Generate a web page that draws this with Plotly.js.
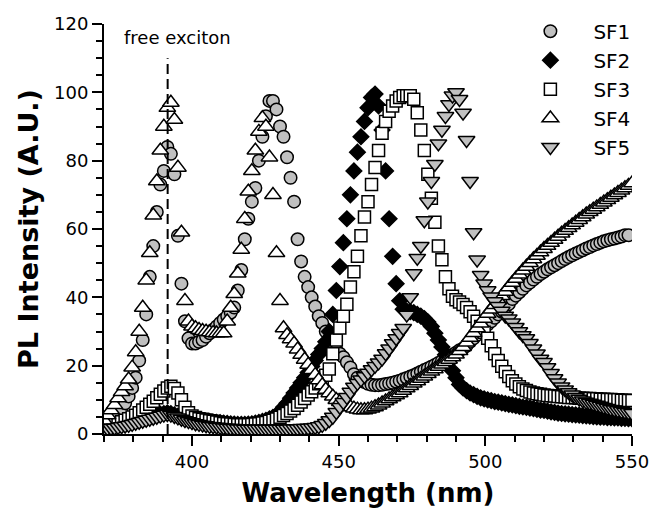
<!DOCTYPE html>
<html>
<head>
<meta charset="utf-8">
<script src="https://cdn.plot.ly/plotly-3.0.1.min.js"></script>
<style>html,body{margin:0;padding:0;background:#fff;}#chart{width:658px;height:508px;}</style>
</head>
<body>
<div id="chart"></div>
<script>
// Wavelength grid (nm)
var wavelength = [370.0,371.2,372.4,373.6,374.8,376.0,377.2,378.4,379.6,380.8,382.0,383.2,384.4,385.6,386.8,388.0,389.2,390.4,391.6,392.8,394.0,395.2,396.4,397.6,398.8,400.0,401.2,402.4,403.6,404.8,406.0,407.2,408.4,409.6,410.8,412.0,413.2,414.4,415.6,416.8,418.0,419.2,420.4,421.6,422.8,424.0,425.2,426.4,427.6,428.8,430.0,431.2,432.4,433.6,434.8,436.0,437.2,438.4,439.6,440.8,442.0,443.2,444.4,445.6,446.8,448.0,449.2,450.4,451.6,452.8,454.0,455.2,456.4,457.6,458.8,460.0,461.2,462.4,463.6,464.8,466.0,467.2,468.4,469.6,470.8,472.0,473.2,474.4,475.6,476.8,478.0,479.2,480.4,481.6,482.8,484.0,485.2,486.4,487.6,488.8,490.0,491.2,492.4,493.6,494.8,496.0,497.2,498.4,499.6,500.8,502.0,503.2,504.4,505.6,506.8,508.0,509.2,510.4,511.6,512.8,514.0,515.2,516.4,517.6,518.8,520.0,521.2,522.4,523.6,524.8,526.0,527.2,528.4,529.6,530.8,532.0,533.2,534.4,535.6,536.8,538.0,539.2,540.4,541.6,542.8,544.0,545.2,546.4,547.6,548.8,550.0];

var sf1 = [3,3.5,4,5,6,7.5,9,11,13.5,16.5,21.5,27.5,35,46,55,65,73,77,84,82,76,58,44,33,28,26.5,26.5,27,27.5,28.5,29.5,30.5,31.5,32.5,33.5,34.5,35.5,37,42,48,57,63,68,72,80,87,93,97.5,97.5,95,90,87,81,75,68,57,50.5,46,43,40,37.3,34.5,32.5,30,28,26,24.5,23.5,22.5,21,19.5,17.5,16.5,15.8,15.2,14.7,14.4,14.3,14.3,14.4,14.6,14.8,15,15.3,15.6,16,16.4,16.8,17.2,17.7,18.2,18.7,19.2,19.7,20.2,20.8,21.4,22,22.6,23.2,23.8,24.5,25,25.8,27,28,29,30,31,32,33,34,35,35.8,37,38,39.5,40.5,41.5,42.5,43.5,44.3,45.2,46,46.8,47.5,48.2,48.8,49.4,50,50.6,51.2,51.8,52.3,52.8,53.3,53.8,54.3,54.7,55.2,55.6,56,56.4,56.7,57,57.2,57.5,57.8,58.2,58.2,null];

var sf2 = [2,2,2.2,2.4,2.6,2.8,3,3.2,3.5,3.8,4,4.3,4.6,4.9,5.2,5.5,5.8,6,6.2,6,5.6,5.2,4.8,4.5,4.3,4.1,4,3.9,3.8,3.7,3.6,3.5,3.4,3.3,3.2,3.1,3,2.9,2.8,2.8,2.8,2.9,3,3.2,3.4,3.7,4,4.4,4.9,5.5,6.5,7.8,9,10.5,12,13.5,15,16.5,18,19.8,21.5,23.3,25,27,30,35,42,49,56,63,70,77,82.5,87,91.5,95.5,98.5,99.5,96,89,77,63,52,44,39,36.5,36,35.8,35.5,35,34.5,33.8,32.8,31.5,29.5,27.5,25.5,23.2,21,18.5,16.5,14.5,13.5,12.7,12,11.5,11,10.6,10.3,10,9.8,9.5,9.3,9.1,8.9,8.7,8.5,8.3,8.1,7.9,7.8,7.6,7.4,7.2,7,6.9,6.7,6.5,6.3,6.1,6,5.9,5.8,5.7,5.6,5.5,5.4,5.3,5.2,5.1,5,4.9,4.9,4.8,4.8,4.7,4.7,4.6,4.6,4.5,4.5];

var sf3 = [2,2.2,2.5,2.8,3.2,3.6,4,4.5,5,5.5,6.2,7,7.8,8.7,9.6,10.6,11.6,12.6,13.5,14,13.3,12,10,7.8,6.2,5.3,4.8,4.5,4.3,4.1,3.9,3.7,3.5,3.3,3.1,3,2.9,2.8,2.7,2.7,2.7,2.7,2.8,2.9,3,3.2,3.4,3.7,4,4.4,4.9,5.4,6,6.7,7.5,8.4,9.4,10.4,11.4,12.4,13.5,14.7,15.9,17.2,19,23.5,27.5,31,34.5,38,43,47.5,52,58,63.5,68,73,78,83,88,91.5,94.5,96,97.5,98.5,99,99,99,98,94,89,83,76,69,62,55,51,46,42.5,40.3,39.3,38.6,37.9,37,35.8,34.5,33,31.5,29.8,28,25.8,23.5,21.5,19.8,18.2,16.8,15.6,14.6,13.8,13.2,12.7,12.3,12,11.8,11.6,11.4,11.3,11.2,11.1,11,10.9,10.8,10.7,10.7,10.6,10.5,10.5,10.4,10.4,10.3,10.3,10.2,10.2,10.1,10.1,10,10,9.9,9.9,9.8,9.8];

var sf4 = [4,5.5,7,8.5,10.5,12.3,14,16,19.5,24,30,37,45,53,64,74,83,90,95.5,97,92,78,59,39,33,31.5,31,30.5,30.2,30,29.8,29.6,29.5,29.5,29.5,33,37,41,47,54,63,71,77,83,88.5,92.5,90,81,70,53,39,31,29,27.8,26.5,24.8,23.2,21.8,20.3,18.8,17.3,15.8,14.3,13,12,11,10,9.4,8.9,8.4,7.9,7.5,7.2,7,7,7.2,7.5,7.9,8.4,9,9.6,10.2,10.8,11.4,12,12.7,13.4,14.1,14.8,15.5,16.2,16.9,17.6,18.3,19,19.7,20.4,21.1,21.8,22.5,23.3,24.3,25.5,26.8,28.2,29.6,31,32.4,33.8,35.2,36.5,37.8,39.1,40.4,41.7,43,44.3,45.5,46.7,47.9,49,50.1,51.2,52.2,53.2,54.2,55.1,56,56.9,57.8,58.7,59.5,60.3,61.1,61.9,62.7,63.5,64.3,65,65.7,66.4,67.1,67.8,68.5,69.2,69.9,70.6,71.3,72,72.7,73.4];

var sf5 = [1.5,1.6,1.7,1.8,2,2.2,2.4,2.6,2.9,3.2,3.5,3.8,4.1,4.4,4.7,5,5.3,5.6,5.8,5.6,5.2,4.8,4.4,4,3.7,3.4,3.1,2.9,2.7,2.5,2.3,2.2,2.1,2,1.9,1.8,1.7,1.7,1.6,1.6,1.5,1.5,1.5,1.5,1.5,1.5,1.5,1.5,1.5,1.5,1.5,1.5,1.5,1.6,1.6,1.6,1.7,1.7,1.8,1.9,2,2.2,2.6,3.2,4,5,6.4,7.9,9.3,10.8,12.3,13.8,14.9,15.9,16.9,17.9,18.9,19.9,20.9,22,23.6,25,26.5,28,29.5,31,34.9,40,47,51.5,55,62.5,68,74,79,85,89,93,96.5,99,100,98,94,86,74,59,51,46.5,44,42,40.2,38.8,37.4,36,34.6,33.8,32.6,31.3,30,28.9,28,26.6,25,23.5,22,21,19.5,17.8,16.3,15,13.9,13,12.2,11.5,10.8,10.3,9.8,9.4,9.1,8.8,8.5,8.2,7.9,7.6,7.3,7.1,6.9,6.7,6.5,6.3,6.1];

var seriesNames = ['SF1','SF2','SF3','SF4','SF5'];
var seriesValues = [sf1, sf2, sf3, sf4, sf5];
var symbols = ['circle','diamond','square','triangle-up','triangle-down'];
var fills = ['#c0c0c0','#000000','#ffffff','#ffffff','#c0c0c0'];
var sizes = [12.5,12,12,14.5,14.5];

var excitonX = 391.7;
var excitonTop = 110;
var excitonLabel = 'free exciton';

var FONT = 'DejaVu Sans, Verdana, sans-serif';

var traces = seriesNames.map(function(name, k){
  return {
    type: 'scatter', mode: 'markers', name: name,
    x: wavelength, y: seriesValues[k],
    marker: {symbol: symbols[k], size: sizes[k], color: fills[k], line: {color: '#000', width: 1.5}},
    cliponaxis: true
  };
});

var layout = {
  width: 658, height: 508,
  margin: {l: 104, r: 26, t: 18, b: 74},
  paper_bgcolor: '#fff', plot_bgcolor: '#fff',
  font: {family: FONT, color: '#000', size: 18},
  showlegend: true,
  legend: {x: 0.764, y: 1.03, xanchor: 'left', yanchor: 'top', bgcolor: 'rgba(0,0,0,0)',
           font: {family: FONT, size: 20, color: '#000'}, itemwidth: 76, tracegroupgap: 0},
  xaxis: {
    range: [370, 550], dtick: 50, tick0: 0,
    showline: true, linewidth: 2, linecolor: '#000', mirror: false,
    ticks: 'outside', ticklen: 10, tickwidth: 2, tickcolor: '#000',
    minor: {dtick: 10, tick0: 0, ticks: 'outside', ticklen: 6, tickwidth: 2, tickcolor: '#000', showgrid: false},
    showgrid: false, zeroline: false,
    tickfont: {family: FONT, size: 18},
    title: {text: '<b>Wavelength (nm)</b>', font: {family: FONT, size: 26}, standoff: 13}
  },
  yaxis: {
    range: [0, 120], dtick: 20, tick0: 0,
    showline: true, linewidth: 2, linecolor: '#000', mirror: false,
    ticks: 'outside', ticklen: 10, tickwidth: 2, tickcolor: '#000',
    minor: {dtick: 5, tick0: 0, ticks: 'outside', ticklen: 6, tickwidth: 2, tickcolor: '#000', showgrid: false},
    showgrid: false, zeroline: false,
    tickfont: {family: FONT, size: 18},
    title: {text: '<b>PL Intensity (A.U.)</b>', font: {family: FONT, size: 27}, standoff: 8}
  },
  shapes: [{type: 'line', xref: 'x', yref: 'y', x0: excitonX, x1: excitonX, y0: 0, y1: excitonTop,
            line: {color: '#000', width: 2, dash: '10px,5px'}, layer: 'above'}],
  annotations: [{xref: 'x', yref: 'y', x: 395, y: 116, text: excitonLabel, showarrow: false,
                 font: {family: FONT, size: 18, color: '#000'}}]
};

Plotly.newPlot('chart', traces, layout, {staticPlot: true, displayModeBar: false});
</script>
</body>
</html>
